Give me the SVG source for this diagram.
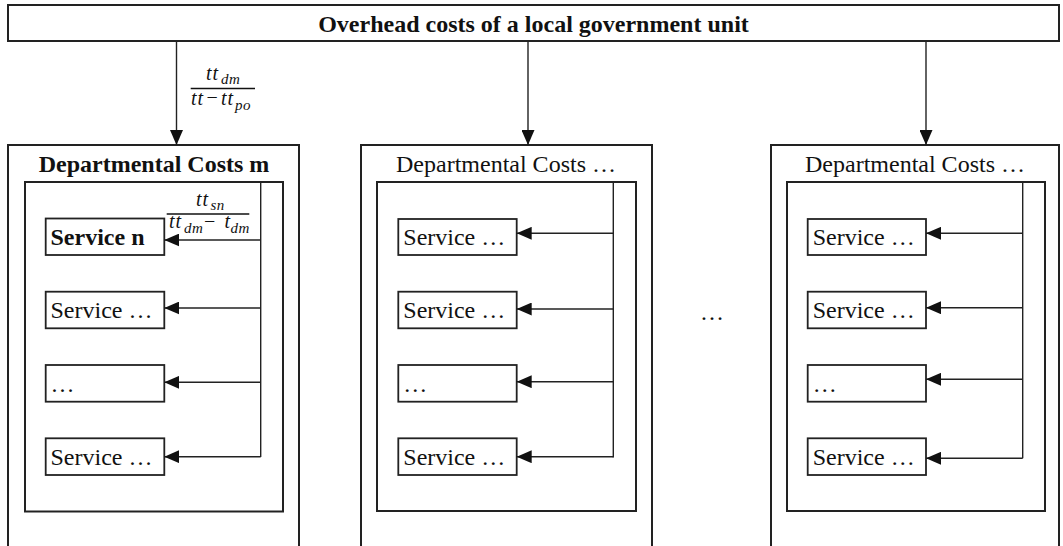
<svg xmlns="http://www.w3.org/2000/svg" width="1063" height="546" viewBox="0 0 1063 546">
<style>
.box{fill:#fff;stroke:#222;stroke-width:2}
.svc{fill:#fff;stroke:#222;stroke-width:1.8}
.con{fill:none;stroke:#222;stroke-width:1.4}
.t{font-family:"Liberation Serif","Times New Roman",serif;font-size:24px;fill:#111}
.b{font-weight:bold}
.m{font-family:"Liberation Serif","Times New Roman",serif;font-style:italic;fill:#111;font-size:20px;letter-spacing:1px}
.s{font-family:"Liberation Serif","Times New Roman",serif;font-style:italic;fill:#111;font-size:15px;letter-spacing:0.5px}
.mi{font-family:"Liberation Serif","Times New Roman",serif;fill:#111;font-size:20px}
</style>
<defs>
<marker id="ah" markerUnits="userSpaceOnUse" markerWidth="16" markerHeight="13" refX="15" refY="6.5" orient="auto">
<path d="M0,0 L15,6.5 L0,13 Z" fill="#111"/>
</marker>
</defs>
<rect width="1063" height="546" fill="#fff"/>

<g id="top">
<rect class="box" x="8" y="5" width="1051" height="36"/>
<text class="t b" x="533.5" y="32" text-anchor="middle">Overhead costs of a local government unit</text>
</g>

<g id="dept1">
<rect class="box" x="8" y="145" width="291" height="410"/>
<text class="t b" x="154" y="172" text-anchor="middle">Departmental Costs m</text>
<rect class="box" x="25" y="182" width="258" height="329.5"/>
</g>
<g id="dept2">
<rect class="box" x="361" y="145" width="291" height="410"/>
<text class="t" x="506" y="172" text-anchor="middle">Departmental Costs …</text>
<rect class="box" x="377" y="182" width="259" height="329"/>
</g>
<g id="dept3">
<rect class="box" x="771" y="145" width="288" height="410"/>
<text class="t" x="915" y="172" text-anchor="middle">Departmental Costs …</text>
<rect class="box" x="787" y="182" width="258" height="329"/>
</g>

<g id="services1">
<g id="s1-1"><rect class="svc" x="45.7" y="218.5" width="118.6" height="36.5"/><text class="t b" x="50.5" y="244.5">Service n</text></g>
<g id="s1-2"><rect class="svc" x="45.7" y="291.7" width="118.6" height="36.6"/><text class="t" x="50.5" y="318.3">Service …</text></g>
<g id="s1-3"><rect class="svc" x="45.7" y="365" width="118.6" height="36.7"/><text class="t" x="50.5" y="391.7">…</text></g>
<g id="s1-4"><rect class="svc" x="45.7" y="438.3" width="118.6" height="36.7"/><text class="t" x="50.5" y="465">Service …</text></g>
</g>
<g id="services2">
<g id="s2-1"><rect class="svc" x="398.3" y="219" width="118.4" height="36"/><text class="t" x="403.3" y="245">Service …</text></g>
<g id="s2-2"><rect class="svc" x="398.3" y="291.7" width="118.4" height="36.6"/><text class="t" x="403.3" y="318.3">Service …</text></g>
<g id="s2-3"><rect class="svc" x="398.3" y="365" width="118.4" height="36.7"/><text class="t" x="403.3" y="391.7">…</text></g>
<g id="s2-4"><rect class="svc" x="398.3" y="438.3" width="118.4" height="36.7"/><text class="t" x="403.3" y="465">Service …</text></g>
</g>
<g id="services3">
<g id="s3-1"><rect class="svc" x="807.7" y="219" width="118.3" height="36"/><text class="t" x="812.7" y="245">Service …</text></g>
<g id="s3-2"><rect class="svc" x="807.7" y="291.7" width="118.3" height="36.6"/><text class="t" x="812.7" y="318.3">Service …</text></g>
<g id="s3-3"><rect class="svc" x="807.7" y="365" width="118.3" height="36.7"/><text class="t" x="812.7" y="391.7">…</text></g>
<g id="s3-4"><rect class="svc" x="807.7" y="438.3" width="118.3" height="36.7"/><text class="t" x="812.7" y="465">Service …</text></g>
</g>

<g id="gap-ellipsis"><text class="t" x="700" y="320">…</text></g>

<g id="connectors">
<line class="con" x1="176.5" y1="41" x2="176.5" y2="145" marker-end="url(#ah)"/>
<line class="con" x1="528" y1="41" x2="528" y2="145" marker-end="url(#ah)"/>
<line class="con" x1="926" y1="41" x2="926" y2="145" marker-end="url(#ah)"/>

<line class="con" x1="260.7" y1="182" x2="260.7" y2="457"/>
<line class="con" x1="260.7" y1="240" x2="164.3" y2="240" marker-end="url(#ah)"/>
<line class="con" x1="260.7" y1="308" x2="164.3" y2="308" marker-end="url(#ah)"/>
<line class="con" x1="260.7" y1="382.3" x2="164.3" y2="382.3" marker-end="url(#ah)"/>
<line class="con" x1="260.7" y1="456.7" x2="164.3" y2="456.7" marker-end="url(#ah)"/>

<line class="con" x1="613.3" y1="182" x2="613.3" y2="457.5"/>
<line class="con" x1="613.3" y1="233.3" x2="516.7" y2="233.3" marker-end="url(#ah)"/>
<line class="con" x1="613.3" y1="309" x2="516.7" y2="309" marker-end="url(#ah)"/>
<line class="con" x1="613.3" y1="381.7" x2="516.7" y2="381.7" marker-end="url(#ah)"/>
<line class="con" x1="613.3" y1="456.7" x2="516.7" y2="456.7" marker-end="url(#ah)"/>

<line class="con" x1="1022.7" y1="182" x2="1022.7" y2="458.3"/>
<line class="con" x1="1022.7" y1="233.3" x2="926" y2="233.3" marker-end="url(#ah)"/>
<line class="con" x1="1022.7" y1="307.7" x2="926" y2="307.7" marker-end="url(#ah)"/>
<line class="con" x1="1022.7" y1="379.3" x2="926" y2="379.3" marker-end="url(#ah)"/>
<line class="con" x1="1022.7" y1="458.3" x2="926" y2="458.3" marker-end="url(#ah)"/>
</g>

<g id="formula1">
<text class="m" x="206" y="80">tt</text>
<text class="s" x="221" y="84">dm</text>
<line x1="190.7" y1="88.5" x2="255" y2="88.5" stroke="#111" stroke-width="1.3"/>
<text class="m" x="191" y="105">tt</text>
<text class="mi" x="206.5" y="104">−</text>
<text class="m" x="221" y="105">tt</text>
<text class="s" x="235" y="110">po</text>
</g>

<g id="formula2">
<text class="m" x="196" y="205.5">tt</text>
<text class="s" x="210.5" y="210">sn</text>
<line x1="166.7" y1="214" x2="249.3" y2="214" stroke="#111" stroke-width="1.3"/>
<text class="m" x="169" y="228.3">tt</text>
<text class="s" x="184" y="233">dm</text>
<text class="mi" x="204" y="228">−</text>
<text class="m" x="224.5" y="228.3">t</text>
<text class="s" x="230.5" y="233">dm</text>
</g>
</svg>
